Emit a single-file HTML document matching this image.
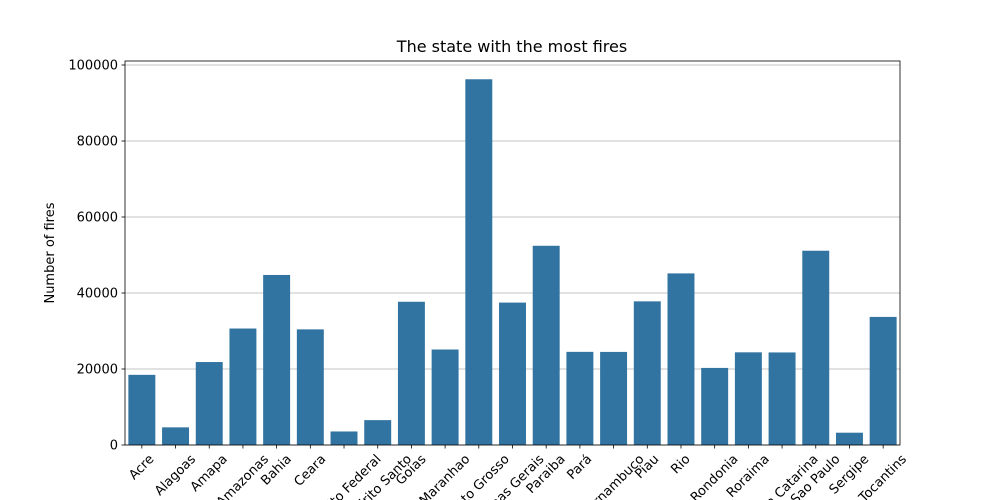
<!DOCTYPE html>
<html><head><meta charset="utf-8"><style>html,body{margin:0;background:#fff;width:1000px;height:500px;overflow:hidden}svg{display:block;font-family:"DejaVu Sans","Liberation Sans",sans-serif}</style></head>
<body>
<svg id="c" width="1000" height="500" xmlns="http://www.w3.org/2000/svg" style="overflow:hidden"></svg>
<script>
const categories=["Acre","Alagoas","Amapa","Amazonas","Bahia","Ceara","Distrito Federal","Espirito Santo","Goias","Maranhao","Mato Grosso","Minas Gerais","Paraiba","Pará","Pernambuco","Piau","Rio","Rondonia","Roraima","Santa Catarina","Sao Paulo","Sergipe","Tocantins"];
const fires=[18464,4644,21832,30650,44746,30428,3561,6546,37695,25129,96246,37475,52426,24512,24498,37803,45160,20285,24385,24359,51121,3237,33707];
const yTicks=[0,20000,40000,60000,80000,100000];
const NS="http://www.w3.org/2000/svg";
const svg=document.getElementById('c');
const L=125,R=900,T=61,B=445,yMax=101052;
const y=v=>B-(v/yMax)*(B-T);
const step=(R-L)/categories.length;
const x=i=>L+step*(i+0.5);
function mk(t,a,p){const e=document.createElementNS(NS,t);for(const k in a)e.setAttribute(k,a[k]);(p||svg).appendChild(e);return e;}
const t=mk('text',{x:512,y:52,'text-anchor':'middle','font-size':16});
t.textContent='The state with the most fires';


yTicks.forEach(v=>{
 const g=mk('line',{x1:L,x2:R,y1:y(v),y2:y(v),stroke:'#b0b0b0','stroke-width':0.8});
 
 
 mk('line',{x1:L-3.5,x2:L,y1:y(v),y2:y(v),stroke:'#000','stroke-width':0.8});
 const l=mk('text',{x:L-7,y:y(v)+4.5,'text-anchor':'end','font-size':13});
 l.textContent=v;
 
 
});
categories.forEach((c,i)=>{
 const bw=step*0.8;
 const r=mk('rect',{x:x(i)-bw/2,y:y(fires[i]),width:bw,height:B-y(fires[i]),fill:'#3274a1'});
 
 
 mk('line',{x1:x(i),x2:x(i),y1:B,y2:B+3.5,stroke:'#000','stroke-width':0.8});
 const tx=mk('text',{'text-anchor':'middle','font-size':13,'dominant-baseline':'central'});
 tx.textContent=c;
 
 
 const w=tx.getComputedTextLength(),h=15;
 const cy=452+(w+h)*0.7071/2;
 tx.setAttribute('x',x(i));tx.setAttribute('y',cy);
 tx.setAttribute('transform',`rotate(-45 ${x(i)} ${cy})`);
});
const fr=mk('rect',{x:L,y:T,width:R-L,height:B-T,fill:'none',stroke:'#000','stroke-width':0.8});


const yl=mk('text',{x:54,y:253,'text-anchor':'middle','font-size':13,transform:'rotate(-90 54 253)'});
yl.textContent='Number of fires';


</script>
</body></html>
